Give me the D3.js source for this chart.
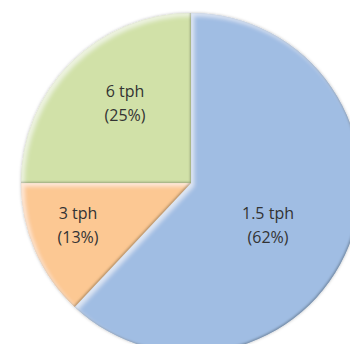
<!DOCTYPE html>
<html>
<head>
<meta charset="utf-8">
<script src="https://d3js.org/d3.v7.min.js"></script>
<style>
  body { margin: 0; background: #fff; }
  .lbl { font-family: "Open Sans", "Noto Sans", sans-serif; font-size: 16px; fill: #333; }
</style>
</head>
<body>
<svg width="350" height="344"></svg>
<script>
var labels = ["1.5 tph", "3 tph", "6 tph"];
var shares = [62, 13, 25];
var colors = ["#a0bde3", "#fcc893", "#d1e1a8"];

var svg = d3.select("svg"),
    cx = 191, cy = 183, r = 170;

// bevel: light on top-left edges, dark on bottom-right edges
var defs = svg.append("defs");
var f = defs.append("filter").attr("id", "bevel")
  .attr("x", "-10%").attr("y", "-10%").attr("width", "120%").attr("height", "120%");
f.append("feGaussianBlur").attr("in", "SourceAlpha").attr("stdDeviation", 2).attr("result", "b");
f.append("feOffset").attr("in", "b").attr("dx", 3).attr("dy", 3).attr("result", "b1");
f.append("feComposite").attr("in", "SourceAlpha").attr("in2", "b1").attr("operator", "out").attr("result", "hl");
f.append("feFlood").attr("flood-color", "#fff").attr("flood-opacity", 0.6);
f.append("feComposite").attr("in2", "hl").attr("operator", "in").attr("result", "hlc");
f.append("feGaussianBlur").attr("in", "SourceAlpha").attr("stdDeviation", 1).attr("result", "c");
f.append("feOffset").attr("in", "c").attr("dx", -1.5).attr("dy", -1.5).attr("result", "b2");
f.append("feComposite").attr("in", "SourceAlpha").attr("in2", "b2").attr("operator", "out").attr("result", "sh");
f.append("feFlood").attr("flood-color", "#1a2a10").attr("flood-opacity", 0.55);
f.append("feComposite").attr("in2", "sh").attr("operator", "in").attr("result", "shc");
var m = f.append("feMerge");
m.append("feMergeNode").attr("in", "SourceGraphic");
m.append("feMergeNode").attr("in", "hlc");
m.append("feMergeNode").attr("in", "shc");

var ds = defs.append("filter").attr("id", "outer")
  .attr("x", "-10%").attr("y", "-10%").attr("width", "120%").attr("height", "120%");
ds.append("feDropShadow").attr("dx", 0).attr("dy", 0).attr("stdDeviation", 1.5)
  .attr("flood-color", "#000").attr("flood-opacity", 0.25);

var g = svg.append("g").attr("transform", "translate(" + cx + "," + cy + ")");

var pie = d3.pie().sort(null).value(function(d) { return d; });
var arcs = pie(shares);
var arc = d3.arc().innerRadius(0).outerRadius(r);

var slices = g.append("g").attr("filter", "url(#outer)");
slices.selectAll("path.slice")
  .data(arcs)
  .enter().append("path")
    .attr("class", "slice")
    .attr("d", arc)
    .attr("fill", function(d, i) { return colors[i]; })
    .attr("filter", "url(#bevel)");

var pos = [[77, 36], [-113, 36], [-66, -86]];
var text = g.selectAll("text.lbl")
  .data(arcs)
  .enter().append("text")
    .attr("class", "lbl")
    .attr("text-anchor", "middle")
    .attr("transform", function(d, i) { return "translate(" + pos[i][0] + "," + pos[i][1] + ")"; });
text.append("tspan").attr("x", 0).attr("dy", 0).text(function(d, i) { return labels[i]; });
text.append("tspan").attr("x", 0).attr("dy", 24).text(function(d, i) { return "(" + shares[i] + "%)"; });
</script>
</body>
</html>
